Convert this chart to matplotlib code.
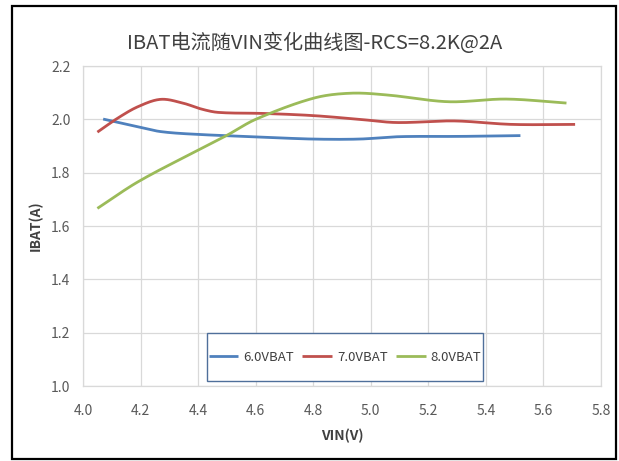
import numpy as np
import matplotlib
matplotlib.use("Agg")
import matplotlib.pyplot as plt
from matplotlib.patches import Rectangle

plt.rcParams['font.family'] = ['Noto Sans CJK SC', 'DejaVu Sans']

title = "IBAT电流随VIN变化曲线图-RCS=8.2K@2A"
x_label = "VIN(V)"
y_label = "IBAT(A)"
series_names = ["6.0VBAT", "7.0VBAT", "8.0VBAT"]
series_colors = ["#4F81BD", "#C0504D", "#9BBB59"]

# VIN (V) and IBAT (A) for each battery voltage
vin_6v = [4.07, 4.19, 4.27, 4.39, 4.63, 4.80, 4.96, 5.10, 5.31, 5.52]
ibat_6v = [2.001, 1.972, 1.954, 1.944, 1.933, 1.926, 1.926, 1.935, 1.936, 1.939]

vin_7v = [4.05, 4.12, 4.19, 4.27, 4.35, 4.41, 4.47, 4.63, 4.80, 4.96, 5.09, 5.29, 5.49, 5.71]
ibat_7v = [1.952, 2.004, 2.047, 2.075, 2.060, 2.039, 2.026, 2.022, 2.014, 2.000, 1.988, 1.994, 1.981, 1.981]

vin_8v = [4.05, 4.19, 4.39, 4.50, 4.60, 4.80, 4.93, 5.06, 5.27, 5.47, 5.68]
ibat_8v = [1.666, 1.765, 1.879, 1.940, 2.000, 2.079, 2.098, 2.091, 2.066, 2.076, 2.061]

x_ticks = [4.0, 4.2, 4.4, 4.6, 4.8, 5.0, 5.2, 5.4, 5.6, 5.8]
y_ticks = [1.0, 1.2, 1.4, 1.6, 1.8, 2.0, 2.2]


def smooth_line(xs, ys, steps=30):
    """Cubic Hermite curve through the points with central-difference slopes."""
    x = np.asarray(xs, float)
    y = np.asarray(ys, float)
    m = np.empty_like(y)
    m[1:-1] = (y[2:] - y[:-2]) / (x[2:] - x[:-2])
    m[0] = (y[1] - y[0]) / (x[1] - x[0])
    m[-1] = (y[-1] - y[-2]) / (x[-1] - x[-2])
    px, py = [], []
    for i in range(len(x) - 1):
        h = x[i + 1] - x[i]
        t = np.linspace(0, 1, steps, endpoint=False)
        h00 = 2 * t ** 3 - 3 * t ** 2 + 1
        h10 = t ** 3 - 2 * t ** 2 + t
        h01 = -2 * t ** 3 + 3 * t ** 2
        h11 = t ** 3 - t ** 2
        px.append(x[i] + t * h)
        py.append(h00 * y[i] + h10 * h * m[i] + h01 * y[i + 1] + h11 * h * m[i + 1])
    px.append([x[-1]])
    py.append([y[-1]])
    return np.concatenate(px), np.concatenate(py)


fig = plt.figure(figsize=(6.19, 4.61), dpi=100)

# outer frame
fig.patches.append(Rectangle((12 / 619, 2 / 461), 604 / 619, 453 / 461,
                             transform=fig.transFigure, fill=False,
                             edgecolor="black", linewidth=1.6))

ax = fig.add_axes([83 / 619, 1 - 386 / 461, 518 / 619, 320 / 461])

data = [(vin_6v, ibat_6v), (vin_7v, ibat_7v), (vin_8v, ibat_8v)]
for (xs, ys), name, color in zip(data, series_names, series_colors):
    sx, sy = smooth_line(xs, ys)
    ax.plot(sx, sy, color=color, linewidth=2.0, label=name, solid_capstyle="butt")

ax.set_xlim(4.0, 5.8)
ax.set_ylim(1.0, 2.2)
ax.set_xticks(x_ticks)
ax.set_yticks(y_ticks)
ax.set_xticklabels([f"{v:.1f}" for v in x_ticks])
ax.set_yticklabels([f"{v:.1f}" for v in y_ticks])
ax.grid(True, color="#D9D9D9", linewidth=0.9)
ax.set_axisbelow(True)
for s in ax.spines.values():
    s.set_color("#D9D9D9")
    s.set_linewidth(0.9)
ax.tick_params(length=0, labelsize=10, labelcolor="#595959")
ax.tick_params(axis="x", pad=13)
ax.tick_params(axis="y", pad=9)

ax.set_xlabel(x_label, fontsize=10, fontweight="bold", color="#404040", labelpad=8)
ax.set_ylabel(y_label, fontsize=10, fontweight="bold", color="#404040", labelpad=6)

fig.text(315 / 619, 1 - 43 / 461, title, ha="center", va="center",
         fontsize=14.5, color="#404040")

# legend box
ax.add_patch(Rectangle((0.2394, 0.0156), 0.5328, 0.15, transform=ax.transAxes,
                       facecolor="white", edgecolor="#4F6F9A", linewidth=1.0,
                       zorder=4))
leg = ax.legend(loc="center", bbox_to_anchor=(0.5058, 0.0906), ncol=3, frameon=False,
                fontsize=9.5, handlelength=2.27, columnspacing=0.6,
                handletextpad=0.38, labelcolor="#404040")
leg.set_zorder(5)

fig.savefig("out.png", dpi=100)
